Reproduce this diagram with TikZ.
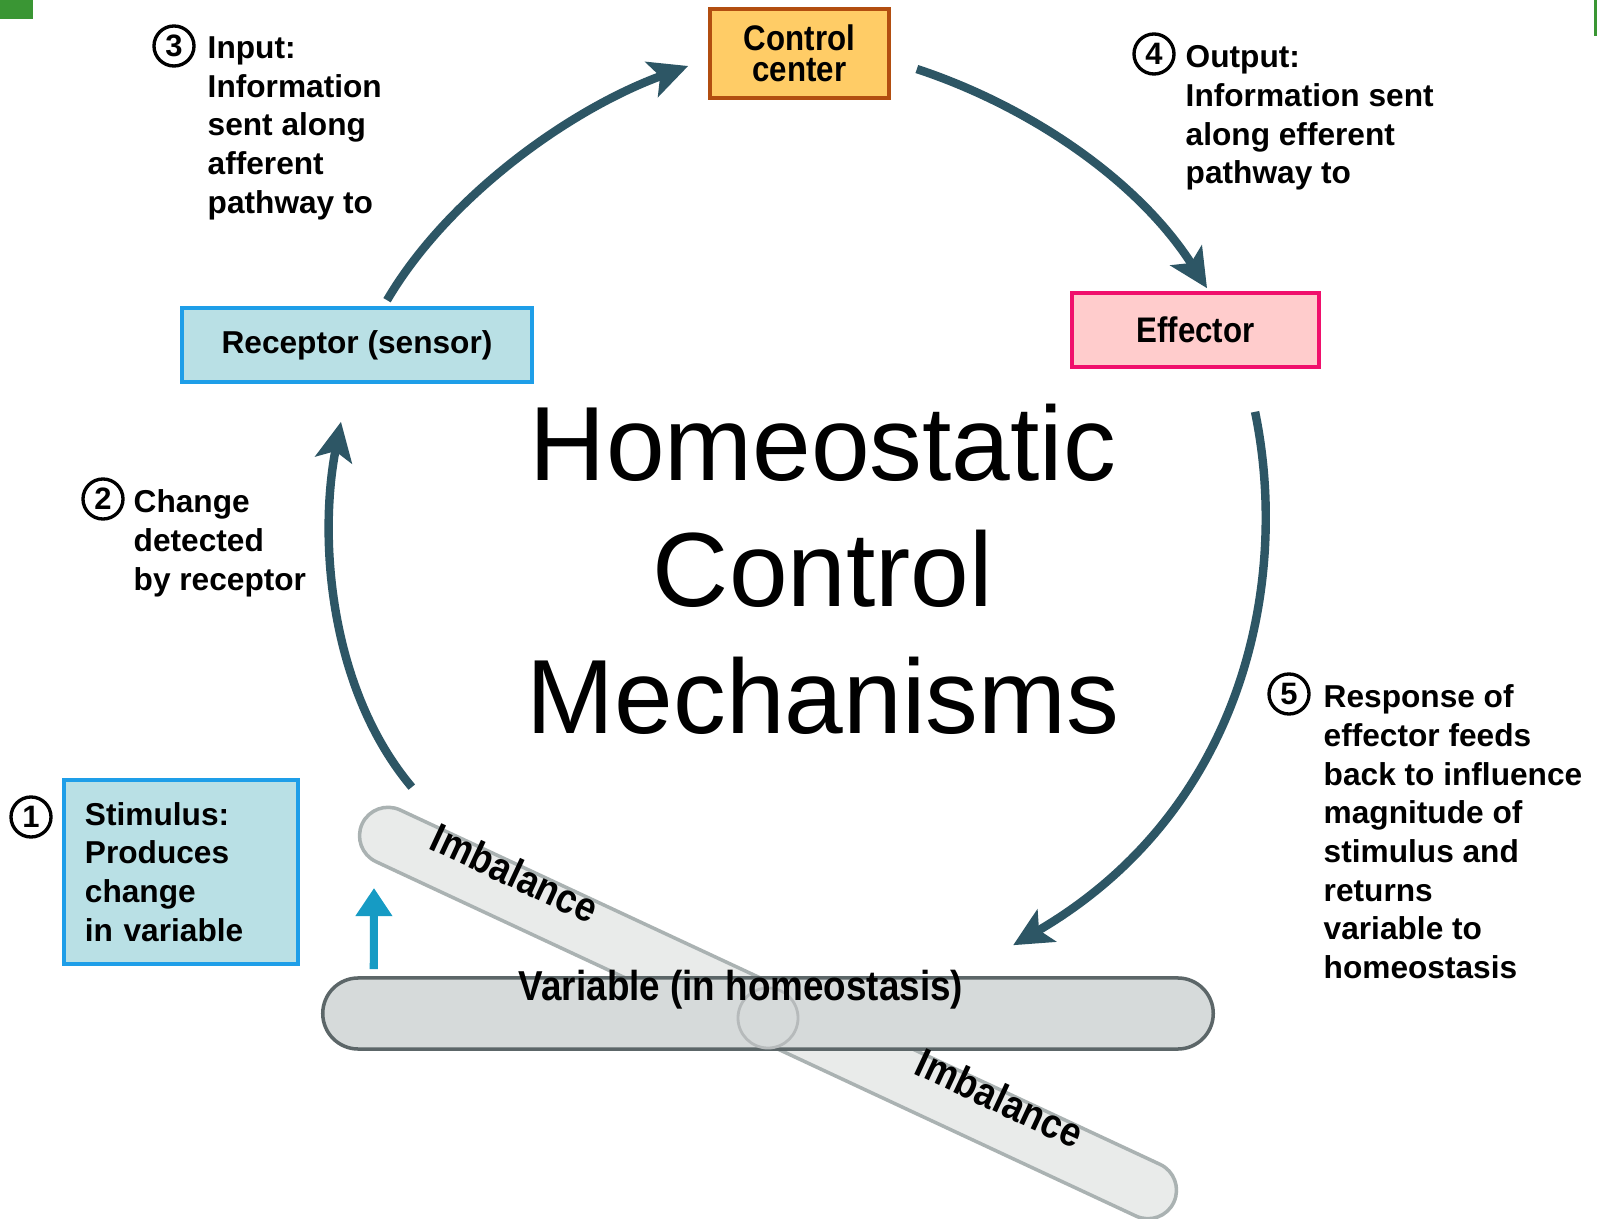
\documentclass[tikz,border=0pt]{standalone}
\usepackage{fontspec}
\setmainfont{Liberation Sans}
\newfontfamily\narrowfont[FakeStretch=0.88]{Liberation Sans Bold}
\usepackage{xcolor}
\usetikzlibrary{arrows.meta, positioning}
\definecolor{loopteal}{RGB}{45,86,101}
\definecolor{stimblue}{RGB}{22,155,196}
\definecolor{recfill}{RGB}{185,224,229}
\definecolor{recline}{RGB}{30,158,232}
\definecolor{ctrfill}{RGB}{255,204,102}
\definecolor{ctrline}{RGB}{178,78,16}
\definecolor{efffill}{RGB}{255,204,204}
\definecolor{effline}{RGB}{240,16,108}
\definecolor{barfill}{RGB}{214,218,218}
\definecolor{barline}{RGB}{92,102,104}
\definecolor{tiltfill}{RGB}{233,235,234}
\definecolor{tiltline}{RGB}{170,178,178}
\definecolor{cornergreen}{RGB}{58,150,52}
\tikzset{
    x=0.01cm, y=-0.01cm, % one unit per pixel, y runs down
    box/.style={draw, line width=1pt, inner sep=0pt}, % the coloured boxes
    sensorbox/.style={box, fill=recfill, draw=recline},
    num/.style={circle, draw, line width=0.95pt, inner sep=0pt, minimum size=4mm, font=\bfseries\fontsize{8.8}{10}\selectfont}, % circled step numbers
    note/.style={anchor=north west, align=left, inner sep=0pt, font=\bfseries\fontsize{9}{11}\selectfont}, % step texts
    pill/.style={draw, line width=1pt, inner sep=0pt},
    tiltlabel/.style={inner sep=0pt, rotate=-25, font=\narrowfont\fontsize{11.8}{14}\selectfont},
}
\tikzstyle{feedback} = [line width=2.4pt, draw=loopteal, -{Stealth[length=11pt,width=10.5pt,inset=2.5pt]}]
\tikzstyle{stimulus} = [line width=2.3pt, draw=stimblue, -{Triangle[length=8pt,width=10pt]}]

\begin{document}
\begin{tikzpicture}
\useasboundingbox (0,0) rectangle (1597,1219);
\fill[white] (0,0) rectangle (1597,1219);
\fill[cornergreen] (0,0) rectangle (33,19);
\fill[cornergreen] (1594,0) rectangle (1597,36);

\node[pill, fill=tiltfill, draw=tiltline, rotate=-25, minimum width=8.95cm, minimum height=0.57cm, rounded corners=2.85mm] (tilt) at (768,1013) {};
\node[pill, fill=barfill, draw=barline, minimum width=8.9cm, minimum height=0.71cm, rounded corners=3.55mm] (bar) at (768,1013.5) {};
\node[circle, draw=barline!45, line width=0.8pt, minimum size=6mm, inner sep=0pt] (pivot) at (768,1018) {};
\node[font=\narrowfont\fontsize{11.9}{14}\selectfont, inner sep=0pt] (var) at (741,990) {Variable (in homeostasis)};
\node[tiltlabel] (imbup) at (515,873) {Imbalance};
\node[tiltlabel] (imbdown) at (1000,1098) {Imbalance};

\node[sensorbox, minimum width=3.5cm, minimum height=0.74cm, font=\bfseries\fontsize{9}{11}\selectfont] (receptor) at (357,345) {Receptor (sensor)};
\node[box, fill=ctrfill, draw=ctrline, minimum width=1.79cm, minimum height=0.89cm, align=center, font=\narrowfont\fontsize{10.1}{8.8}\selectfont] (control) at (799.5,53.5) {Control\\center};
\node[box, fill=efffill, draw=effline, minimum width=2.47cm, minimum height=0.74cm, font=\narrowfont\fontsize{10.1}{12}\selectfont] (effector) at (1195.5,330) {Effector};
\node[sensorbox, minimum height=1.84cm, text width=1.92cm, inner xsep=2.1mm, align=left, font=\bfseries\fontsize{9}{11}\selectfont] (stim) at (181,872) {Stimulus:\\Produces\\change\\in variable};

\node[font=\fontsize{30}{36}\selectfont, align=center, inner sep=0pt] (title) at (823,569) {Homeostatic\\Control\\Mechanisms};

\node[num] (n1) at (31,817) {1};
\node[num] (n2) at (103,499) {2};
\node[num] (n3) at (174,46) {3};
\node[num] (n4) at (1154,54) {4};
\node[num] (n5) at (1289,694) {5};
\node[note] (note2) at (133,489) {Change\\detected\\by receptor};
\node[note] (note3) at (207,36) {Input:\\Information\\sent along\\afferent\\pathway to};
\node[note] (note4) at (1185,45) {Output:\\Information sent\\along efferent\\pathway to};
\node[note] (note5) at (1323,684) {Response of\\effector feeds\\back to influence\\magnitude of\\stimulus and\\returns\\variable to\\homeostasis};

\coordinate (stimtip) at (374,888);
\draw[stimulus] ([xshift=-39.4mm,yshift=0.7mm]bar.north) -- (stimtip);
\draw[feedback] ([xshift=-35.6mm,yshift=18.9mm]bar.north) .. controls (330,690) and (318,540) .. ([xshift=-1.6mm,yshift=-3.8mm]receptor.south);
\draw[feedback] ([xshift=3mm,yshift=0.6mm]receptor.north) .. controls (447,198) and (568,110) .. ([xshift=-2mm,yshift=-1.25mm]control.west);
\draw[feedback] ([xshift=2.6mm,yshift=-1.55mm]control.east) .. controls (1029,106) and (1138,180) .. ([xshift=1.15mm,yshift=0.3mm]effector.north);
\draw[feedback] ([xshift=5.95mm,yshift=-4.3mm]effector.south) .. controls (1290,580) and (1245,810) .. ([xshift=24.5mm,yshift=3.1mm]bar.north);
\end{tikzpicture}
\end{document}
